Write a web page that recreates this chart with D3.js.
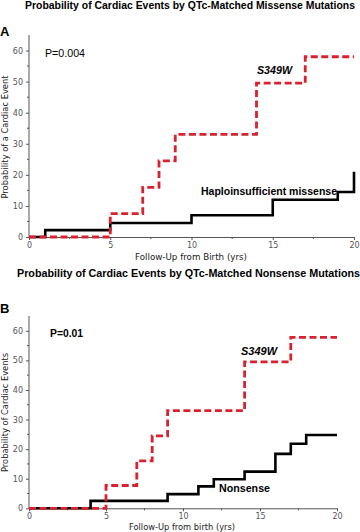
<!DOCTYPE html>
<html><head><meta charset="utf-8">
<script src="https://cdn.jsdelivr.net/npm/d3@7"></script>
<style>body{margin:0;background:#fff}svg{display:block}</style>
</head><body>
<svg id="c" width="360" height="532"></svg>
<script>
// ---- data ----
const xTicks = [0, 5, 10, 15, 20];
const yTicks = [0, 10, 20, 30, 40, 50, 60];

const aRedTime   = [0, 5, 7, 8, 9, 14, 17, 20];
const aRedProb   = [0, 7.5, 16, 24.5, 33, 49.5, 58, 58];
const aBlackTime = [0, 1, 5, 10, 15, 19, 20];
const aBlackProb = [0, 2.2, 4.5, 7, 12, 14.5, 21];

const bRedTime   = [0, 5, 7, 8, 9, 14, 17, 20];
const bRedProb   = [0, 7.7, 16, 24.5, 33, 49.5, 57.8, 57.8];
const bBlackTime = [0, 4, 9, 11, 12, 14, 16, 17, 18, 20];
const bBlackProb = [0, 2.5, 4.8, 7.4, 9.8, 12.4, 18.4, 21.8, 24.8, 24.8];

const svg = d3.select("#c");
const RED = "#d8222f";
const AX = "#555";

function panel(o) {
  const g = svg.append("g");
  const x = d3.scaleLinear().domain([0, 20]).range(o.xr);
  const y = d3.scaleLinear().domain([0, 65]).range(o.yr);

  // panel letter
  g.append("text").attr("x", 0).attr("y", o.letterY)
    .attr("font-family", "Liberation Sans, Arial, sans-serif").attr("font-weight", "bold")
    .attr("font-size", 13).text(o.letter);
  // title
  g.append("text").attr("x", o.titleX).attr("y", o.titleY)
    .attr("font-family", "Liberation Sans, Arial, sans-serif").attr("font-weight", "bold")
    .attr("font-size", 10.5).attr("textLength", o.titleW).attr("lengthAdjust", "spacingAndGlyphs")
    .text(o.title);

  // y axis
  const ya = g.append("g").attr("transform", `translate(${o.xr[0]},0)`)
    .call(d3.axisLeft(y).tickValues(yTicks).tickSize(3).tickPadding(3).tickSizeOuter(0));
  ya.select(".domain").attr("stroke", AX).attr("d", `M0,${o.yr[1]}V${o.yr[0]}`);
  ya.selectAll(".tick line").attr("stroke", AX);
  ya.selectAll(".tick text").attr("fill", "#555").attr("font-family", "DejaVu Sans, sans-serif").attr("font-size", 8);
  // minor y ticks
  g.append("g").selectAll("line").data(d3.range(5, 65, 10)).join("line")
    .attr("x1", o.xr[0] - 2).attr("x2", o.xr[0]).attr("y1", d => y(d)).attr("y2", d => y(d))
    .attr("stroke", AX);

  // x axis
  const xa = g.append("g").attr("transform", `translate(0,${o.yr[0]})`)
    .call(d3.axisBottom(x).tickValues(xTicks).tickSize(3).tickPadding(2).tickSizeOuter(0));
  xa.select(".domain").attr("stroke", AX);
  xa.selectAll(".tick line").attr("stroke", AX);
  xa.selectAll(".tick text").attr("fill", "#555").attr("font-family", "DejaVu Sans, sans-serif").attr("font-size", 8);
  g.append("g").selectAll("line").data(d3.range(2.5, 20, 5)).join("line")
    .attr("x1", d => x(d)).attr("x2", d => x(d)).attr("y1", o.yr[0]).attr("y2", o.yr[0] + 2)
    .attr("stroke", AX);

  // axis titles
  g.append("text").attr("x", o.xlabX).attr("y", o.xlabY)
    .attr("font-family", "DejaVu Sans, sans-serif").attr("font-size", 8.5).attr("fill", "#222")
    .attr("textLength", o.xlabW).attr("lengthAdjust", "spacingAndGlyphs").text(o.xlab);
  g.append("text").attr("transform", `translate(8,${o.ylabC}) rotate(-90)`)
    .attr("text-anchor", "middle")
    .attr("font-family", "DejaVu Sans, sans-serif").attr("font-size", 8.5).attr("fill", "#222")
    .attr("textLength", o.ylabW).attr("lengthAdjust", "spacingAndGlyphs").text(o.ylab);

  const line = d3.line().x(d => x(d[0])).y(d => y(d[1])).curve(d3.curveStepAfter);
  g.append("path").datum(d3.zip(o.bt, o.bp)).attr("d", line)
    .attr("fill", "none").attr("stroke", "#000").attr("stroke-width", 2.6);
  g.append("path").datum(d3.zip(o.rt, o.rp)).attr("d", line)
    .attr("fill", "none").attr("stroke", RED).attr("stroke-width", 2.8)
    .attr("stroke-dasharray", "7,3.5");

  // annotations
  g.append("text").attr("x", o.pX).attr("y", o.pY)
    .attr("font-family", "Liberation Sans, Arial, sans-serif").attr("font-size", 10)
    .attr("font-weight", o.pBold ? "bold" : "normal")
    .attr("textLength", o.pW).attr("lengthAdjust", "spacingAndGlyphs").text(o.p);
  g.append("text").attr("x", o.sX).attr("y", o.sY)
    .attr("font-family", "Liberation Sans, Arial, sans-serif").attr("font-size", 10)
    .attr("font-weight", "bold").attr("font-style", "italic")
    .attr("textLength", o.sW).attr("lengthAdjust", "spacingAndGlyphs").text("S349W");
  g.append("text").attr("x", o.cX).attr("y", o.cY)
    .attr("font-family", "Liberation Sans, Arial, sans-serif").attr("font-size", 10.5)
    .attr("font-weight", "bold")
    .attr("textLength", o.cW).attr("lengthAdjust", "spacingAndGlyphs").text(o.cLab);
}

panel({
  letter: "A", letterY: 36,
  title: "Probability of Cardiac Events by QTc-Matched Missense Mutations",
  titleX: 25, titleY: 8.5, titleW: 330,
  xr: [29, 354], yr: [237, 35],
  xlab: "Follow-Up from Birth (yrs)", xlabX: 135, xlabY: 260, xlabW: 112,
  ylab: "Probability of a Cardiac Event", ylabC: 137, ylabW: 123,
  rt: aRedTime, rp: aRedProb, bt: aBlackTime, bp: aBlackProb,
  p: "P=0.004", pX: 45, pY: 57, pW: 40, pBold: false,
  sX: 257, sY: 74, sW: 35,
  cLab: "Haploinsufficient missense", cX: 201, cY: 194.5, cW: 136
});

panel({
  letter: "B", letterY: 313,
  title: "Probability of Cardiac Events by QTc-Matched Nonsense Mutations",
  titleX: 17, titleY: 277, titleW: 343,
  xr: [29, 337], yr: [508.3, 316],
  xlab: "Follow-Up from birth (yrs)", xlabX: 129, xlabY: 529.5, xlabW: 106,
  ylab: "Probability of Cardiac Events", ylabC: 412.5, ylabW: 119,
  rt: bRedTime, rp: bRedProb, bt: bBlackTime, bp: bBlackProb,
  p: "P=0.01", pX: 50, pY: 336.5, pW: 33, pBold: true,
  sX: 241, sY: 355, sW: 36,
  cLab: "Nonsense", cX: 219, cY: 491.5, cW: 51
});
</script>
</body></html>
